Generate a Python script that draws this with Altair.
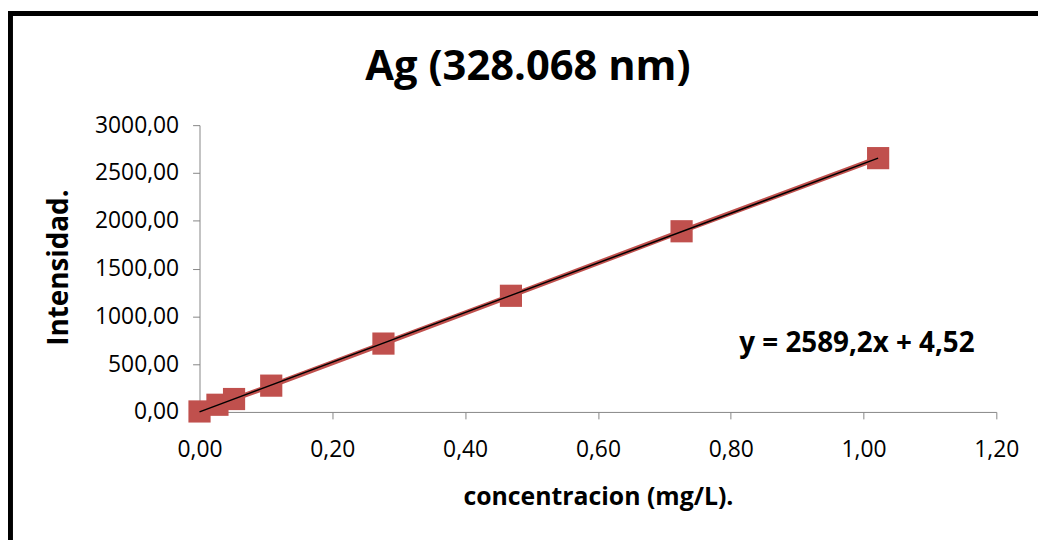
import altair as alt
import pandas as pd

# data
conc = [0.0, 0.027, 0.052, 0.108, 0.277, 0.469, 0.726, 1.022]
intens = [5, 75, 135, 275, 715, 1215, 1890, 2655]
x_ticks = [0.0, 0.2, 0.4, 0.6, 0.8, 1.0, 1.2]
y_ticks = [0, 500, 1000, 1500, 2000, 2500, 3000]
title_text = "Ag (328.068 nm)"
eq_text = "y = 2589,2x + 4,52"
x_title = "concentracion (mg/L)."
y_title = "Intensidad."

df = pd.DataFrame({"x": conc, "y": intens})
FONT = "Open Sans"
RED = "#C0504D"
BLUE = "#4F81BD"
AXC = "#868686"

xs = alt.Scale(domain=[0, 1.2], nice=False, zero=True)
ys = alt.Scale(domain=[0, 3000], nice=False, zero=True)

xenc = alt.X("x:Q", scale=xs, axis=alt.Axis(
    values=x_ticks, title=x_title, labelFlush=False,
    labelExpr="replace(format(datum.value, '.2f'), '.', ',')",
    labelPadding=20, titleFontSize=25, titlePadding=23,
))
yenc = alt.Y("y:Q", scale=ys, axis=alt.Axis(
    values=y_ticks, title=y_title, labelFlush=False,
    labelExpr="replace(format(datum.value, '.2f'), '.', ',')",
    labelPadding=14, titleFontSize=28, titleAngle=-90,
    titleX=-141, titleY=143, titleAlign="center", titleBaseline="middle",
))

base = alt.Chart(df)
blue_line = base.mark_line(color=BLUE, strokeWidth=1.2).encode(x=xenc, y=yenc)
red_line = base.mark_line(color=RED, strokeWidth=5).encode(x=xenc, y=yenc)
pts = base.mark_square(color=RED, size=500, opacity=1).encode(x=xenc, y=yenc)
trend = base.transform_regression("x", "y").mark_line(color="black", strokeWidth=1.5).encode(x=xenc, y=yenc)

one = alt.Chart(pd.DataFrame({"t": [title_text], "e": [eq_text]}))
title = one.mark_text(font=FONT, fontSize=42, fontWeight="bold", align="center",
                      baseline="alphabetic", color="black").encode(
    text="t:N", x=alt.value(331), y=alt.value(-46))
eq = one.mark_text(font=FONT, fontSize=28, fontWeight="bold", align="left",
                   baseline="alphabetic", color="black").encode(
    text="e:N", x=alt.value(544), y=alt.value(229))

frame_left = one.mark_rule(color="black", strokeWidth=5).encode(
    x=alt.value(-190.5), y=alt.value(-115), y2=alt.value(420))
frame_top = one.mark_rule(color="black", strokeWidth=5).encode(
    y=alt.value(-112.5), x=alt.value(-193), x2=alt.value(850))

chart = alt.layer(blue_line, red_line, pts, trend, title, eq, frame_left, frame_top).properties(
    width=803, height=289,
    background="white",
    autosize=alt.AutoSizeParams(type="none"),
    padding={"left": 193, "top": 116, "right": 42, "bottom": 127},
).configure_view(stroke=None).configure_axis(
    grid=False, domainColor=AXC, tickColor=AXC, tickSize=7,
    labelFont=FONT, labelFontSize=23, labelColor="black",
    titleFont=FONT, titleFontWeight="bold", titleColor="black",
)

chart.save("out.html", embed_options={"renderer": "svg", "actions": False})
